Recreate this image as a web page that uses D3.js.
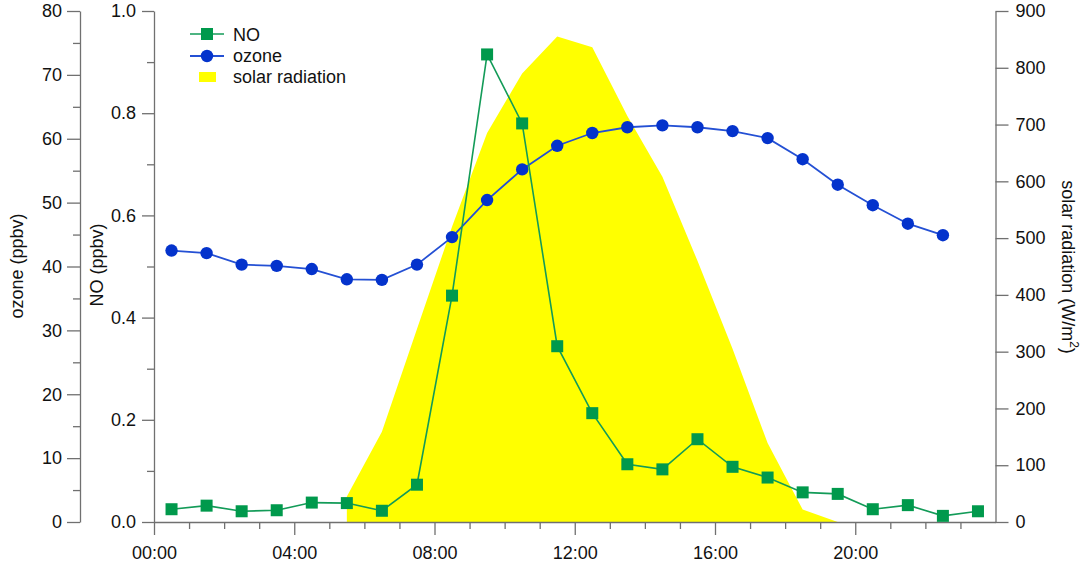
<!DOCTYPE html>
<html>
<head>
<meta charset="utf-8">
<script src="https://cdn.jsdelivr.net/npm/d3@7"></script>
<style>
  html, body { margin: 0; padding: 0; background: #fff; }
  svg { display: block; }
  text { font-family: "Liberation Sans", Arial, sans-serif; }
</style>
</head>
<body>
<svg id="chart" width="1087" height="563"></svg>
<script>
// ---- data ----
const noHours = [0.5,1.5,2.5,3.5,4.5,5.5,6.5,7.5,8.5,9.5,10.5,11.5,12.5,13.5,14.5,15.5,16.5,17.5,18.5,19.5,20.5,21.5,22.5,23.5];
const noValues = [0.025,0.032,0.021,0.023,0.038,0.037,0.022,0.073,0.443,0.915,0.780,0.344,0.213,0.113,0.103,0.162,0.108,0.087,0.058,0.055,0.025,0.033,0.012,0.021];
const ozoneHours = [0.5,1.5,2.5,3.5,4.5,5.5,6.5,7.5,8.5,9.5,10.5,11.5,12.5,13.5,14.5,15.5,16.5,17.5,18.5,19.5,20.5,21.5,22.5];
const ozoneValues = [42.5,42.1,40.3,40.1,39.6,38.0,37.9,40.3,44.6,50.4,55.2,58.9,60.9,61.8,62.1,61.8,61.2,60.1,56.8,52.8,49.6,46.7,44.9];
const solarHours = [5.5,6.5,7.5,8.5,9.5,10.5,11.5,12.5,13.5,14.5,15.5,16.5,17.5,18.5,19.5];
const solarValues = [45,159,340,520,685,790,855,836,715,608,460,305,139,22,0];

const ozoneTicks = [0,10,20,30,40,50,60,70,80];
const ozoneMinor = [5,15,25,35,45,55,65,75];
const noTicks = [0,0.2,0.4,0.6,0.8,1.0];
const noMinor = [0.1,0.3,0.5,0.7,0.9];
const solarTicks = [0,100,200,300,400,500,600,700,800,900];
const hourTicks = [0,4,8,12,16,20];
const hourMinor = [1,2,3,5,6,7,9,10,11,13,14,15,17,18,19,21,22,23];
const hourLabels = ["00:00","04:00","08:00","12:00","16:00","20:00"];

// ---- styles ----
const axisColor = "#707070";
const noFill = "#00994C";
const noLine = "#139B58";
const ozFill = "#0433CC";
const ozLine = "#2450D4";
const solarFill = "#FFFF00";
const fontSize = 18;

const svg = d3.select("#chart");

const x = d3.scaleLinear().domain([0, 24]).range([154, 995.5]);
const yO = d3.scaleLinear().domain([0, 80]).range([522, 11]);
const yN = d3.scaleLinear().domain([0, 1]).range([522, 11]);
const yS = d3.scaleLinear().domain([0, 900]).range([522, 11]);

// solar area
const solarData = solarHours.map((h, i) => ({h, v: solarValues[i]}));
svg.append("path")
  .datum(solarData)
  .attr("d", d3.area().x(d => x(d.h)).y0(yS(0)).y1(d => yS(d.v)))
  .attr("fill", solarFill);

// axes helper
function styleAxis(g) {
  g.selectAll("path.domain").attr("stroke", axisColor).attr("stroke-width", 1.3);
  g.selectAll(".tick line").attr("stroke", axisColor).attr("stroke-width", 1.3);
  g.selectAll(".tick text").attr("fill", "#111").style("font-size", fontSize + "px")
    .style("font-family", "'Liberation Sans', Arial, sans-serif");
}

// ozone axis (outer left)
const gO = svg.append("g").attr("transform", "translate(80,0)")
  .call(d3.axisLeft(yO).tickValues(ozoneTicks).tickSize(13).tickSizeOuter(0).tickPadding(5).tickFormat(d3.format("d")));
styleAxis(gO);
const gOm = svg.append("g").attr("transform", "translate(80,0)")
  .call(d3.axisLeft(yO).tickValues(ozoneMinor).tickSize(7).tickSizeOuter(0).tickFormat(""));
gOm.select("path.domain").remove();
styleAxis(gOm);

// NO axis (inner left)
const gN = svg.append("g").attr("transform", "translate(154,0)")
  .call(d3.axisLeft(yN).tickValues(noTicks).tickSize(12).tickSizeOuter(0).tickPadding(6).tickFormat(d3.format(".1f")));
styleAxis(gN);
const gNm = svg.append("g").attr("transform", "translate(154,0)")
  .call(d3.axisLeft(yN).tickValues(noMinor).tickSize(7).tickSizeOuter(0).tickFormat(""));
gNm.select("path.domain").remove();
styleAxis(gNm);

// solar axis (right)
const gS = svg.append("g").attr("transform", "translate(995.5,0)")
  .call(d3.axisRight(yS).tickValues(solarTicks).tickSize(13).tickSizeOuter(0).tickPadding(7).tickFormat(d3.format("d")));
styleAxis(gS);

// x axis
const gX = svg.append("g").attr("transform", "translate(0,522)")
  .call(d3.axisBottom(x).tickValues(hourTicks).tickSize(13).tickSizeOuter(0).tickPadding(11)
    .tickFormat((d, i) => hourLabels[i]));
styleAxis(gX);
const gXm = svg.append("g").attr("transform", "translate(0,522)")
  .call(d3.axisBottom(x).tickValues(hourMinor).tickSize(7).tickSizeOuter(0).tickFormat(""));
gXm.select("path.domain").remove();
styleAxis(gXm);

// ozone series
const ozData = ozoneHours.map((h, i) => ({h, v: ozoneValues[i]}));
svg.append("path")
  .datum(ozData)
  .attr("d", d3.line().x(d => x(d.h)).y(d => yO(d.v)))
  .attr("fill", "none").attr("stroke", ozLine).attr("stroke-width", 1.8);
svg.append("g").selectAll("circle").data(ozData).join("circle")
  .attr("cx", d => x(d.h)).attr("cy", d => yO(d.v)).attr("r", 6.2)
  .attr("fill", ozFill);

// NO series
const noData = noHours.map((h, i) => ({h, v: noValues[i]}));
svg.append("path")
  .datum(noData)
  .attr("d", d3.line().x(d => x(d.h)).y(d => yN(d.v)))
  .attr("fill", "none").attr("stroke", noLine).attr("stroke-width", 1.6);
svg.append("g").selectAll("rect").data(noData).join("rect")
  .attr("x", d => x(d.h) - 6).attr("y", d => yN(d.v) - 6)
  .attr("width", 12).attr("height", 12)
  .attr("fill", noFill);

// axis titles
svg.append("text")
  .attr("transform", "translate(22.5,266) rotate(-90)")
  .attr("text-anchor", "middle").style("font-size", fontSize + "px").attr("fill", "#111")
  .text("ozone (ppbv)");
svg.append("text")
  .attr("transform", "translate(103,265) rotate(-90)")
  .attr("text-anchor", "middle").style("font-size", fontSize + "px").attr("fill", "#111")
  .text("NO (ppbv)");
const rt = svg.append("text")
  .attr("transform", "translate(1062,267) rotate(90)")
  .attr("text-anchor", "middle").style("font-size", fontSize + "px").attr("fill", "#111");
rt.append("tspan").text("solar radiation (W/m");
rt.append("tspan").attr("dy", -8).style("font-size", "12px").text("2");
rt.append("tspan").attr("dy", 8).text(")");

// legend
const lg = svg.append("g");
lg.append("line").attr("x1", 190).attr("x2", 224).attr("y1", 34).attr("y2", 34)
  .attr("stroke", noLine).attr("stroke-width", 1.6);
lg.append("rect").attr("x", 201).attr("y", 28).attr("width", 12).attr("height", 12).attr("fill", noFill);
lg.append("text").attr("x", 233).attr("y", 40.5).style("font-size", fontSize + "px").attr("fill", "#111").text("NO");

lg.append("line").attr("x1", 190).attr("x2", 224).attr("y1", 56).attr("y2", 56)
  .attr("stroke", ozLine).attr("stroke-width", 1.8);
lg.append("circle").attr("cx", 207).attr("cy", 56).attr("r", 6.2).attr("fill", ozFill);
lg.append("text").attr("x", 233).attr("y", 61.7).style("font-size", fontSize + "px").attr("fill", "#111").text("ozone");

lg.append("rect").attr("x", 199).attr("y", 72).attr("width", 17).attr("height", 10).attr("fill", solarFill);
lg.append("text").attr("x", 233).attr("y", 82.7).style("font-size", fontSize + "px").attr("fill", "#111").text("solar radiation");
</script>
</body>
</html>
